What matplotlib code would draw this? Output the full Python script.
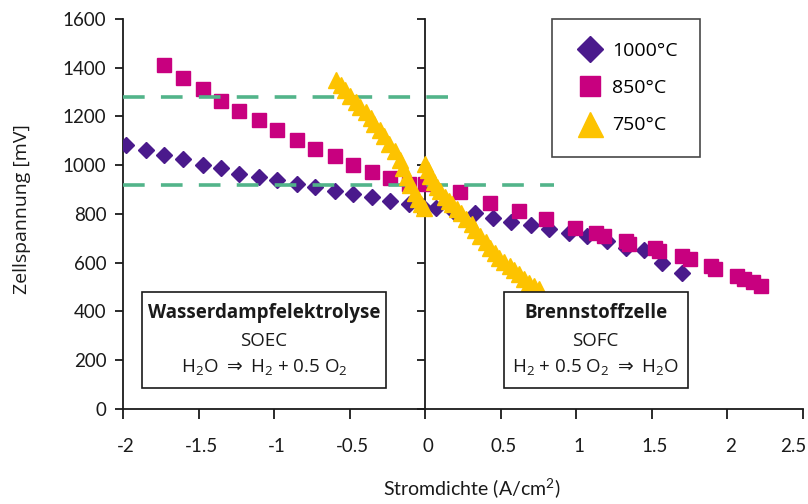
import matplotlib
matplotlib.use("Agg")
import matplotlib.pyplot as plt
import matplotlib.transforms as mtransforms
from matplotlib.patches import Rectangle
from matplotlib.lines import TICKLEFT

# ---- data ----
x_1000_left = [-1.98, -1.85, -1.73, -1.60, -1.47, -1.35, -1.23, -1.10, -0.98, -0.85, -0.73, -0.60, -0.48, -0.35, -0.23, -0.11, -0.02]
y_1000_left = [1084, 1064, 1040, 1026, 1003, 988, 966, 952, 939, 925, 910, 894, 880, 869, 853, 840, 832]
x_1000_right = [0.07, 0.19, 0.33, 0.45, 0.57, 0.70, 0.82, 0.95, 1.07, 1.20, 1.33, 1.45, 1.57, 1.70]
y_1000_right = [826, 809, 805, 782, 767, 755, 737, 721, 710, 690, 662, 652, 601, 556]

x_850_left = [-1.73, -1.60, -1.47, -1.35, -1.23, -1.10, -0.98, -0.85, -0.73, -0.60, -0.48, -0.35, -0.23, -0.11, 0.00]
y_850_left = [1411, 1360, 1313, 1264, 1223, 1184, 1143, 1105, 1068, 1037, 1003, 973, 948, 924, 925]
x_850_right = [0.23, 0.43, 0.62, 0.80, 0.99, 1.13, 1.18, 1.33, 1.35, 1.52, 1.55, 1.70, 1.75, 1.89, 1.92, 2.06, 2.11, 2.17, 2.22]
y_850_right = [890, 846, 814, 778, 744, 724, 710, 690, 676, 660, 649, 629, 615, 588, 574, 547, 533, 520, 506]

x_750_left = [-0.59, -0.56, -0.53, -0.50, -0.46, -0.43, -0.39, -0.36, -0.34, -0.30, -0.27, -0.24, -0.20, -0.17, -0.15, -0.12, -0.10, -0.07, -0.05, -0.03, -0.01]
y_750_left = [1351, 1330, 1310, 1285, 1261, 1240, 1220, 1195, 1171, 1145, 1118, 1088, 1057, 1022, 988, 950, 918, 886, 860, 840, 826]
x_750_right = [0.00, 0.02, 0.035, 0.06, 0.08, 0.10, 0.13, 0.155, 0.18, 0.21, 0.24, 0.27, 0.31, 0.33, 0.36, 0.40, 0.43, 0.46, 0.49, 0.52, 0.56, 0.59, 0.62, 0.655, 0.69, 0.72, 0.75]
y_750_right = [1004, 980, 955, 930, 910, 894, 868, 855, 841, 822, 804, 780, 759, 735, 710, 685, 661, 640, 620, 604, 588, 572, 555, 535, 518, 505, 494]

ref_levels = [1280, 920]
ref_ends = [0.18, 0.85]

series_labels = ["1000\u00b0C", "850\u00b0C", "750\u00b0C"]
x_ticks = [-2, -1.5, -1, -0.5, 0, 0.5, 1, 1.5, 2, 2.5]
x_ticklabels = ["-2", "-1.5", "-1", "-0.5", "0", "0.5", "1", "1.5", "2", "2.5"]
y_ticks = [0, 200, 400, 600, 800, 1000, 1200, 1400, 1600]

# ---- style ----
purple = "#4a1a8c"
pink = "#c8007f"
yellow = "#fdc300"
green = "#52b48a"
ink = "#1a1a1a"

narrow = ["Lato", "DejaVu Sans"]
textfam = ["Open Sans", "DejaVu Sans"]
plt.rcParams["font.family"] = textfam
plt.rcParams["mathtext.fontset"] = "dejavusans"

fig = plt.figure(figsize=(8.08, 5.04), dpi=100)
ax = fig.add_axes([0.1522, 0.1885, 0.9938 - 0.1522, 0.9623 - 0.1885])

ax.plot(x_1000_left + x_1000_right, y_1000_left + y_1000_right, ls="none", marker="D",
        ms=8.5, color=purple, mec=purple, zorder=3, label=series_labels[0])
ax.plot(x_850_left + x_850_right, y_850_left + y_850_right, ls="none", marker="s",
        ms=10, color=pink, mec=pink, zorder=3.5, label=series_labels[1])
for lvl, xe in zip(ref_levels, ref_ends):
    ax.plot([-2, xe], [lvl, lvl], color=green, lw=2.6, ls=(0, (6, 4.5)), zorder=4)
ax.plot(x_750_left + x_750_right, y_750_left + y_750_right, ls="none", marker="^",
        ms=12, color=yellow, mec=yellow, zorder=5, label=series_labels[2])

ax.set_xlim(-2, 2.5)
ax.set_ylim(0, 1600)
ax.spines["top"].set_visible(False)
ax.spines["right"].set_position(("data", 0))
for s in ["left", "bottom", "right"]:
    ax.spines[s].set_linewidth(1.3)
    ax.spines[s].set_color(ink)
ax.set_xticks(x_ticks)
ax.set_xticklabels(x_ticklabels)
ax.set_yticks(y_ticks)
ax.tick_params(axis="x", direction="out", length=7, width=1.3, pad=14, labelsize=13.5, colors=ink)
ax.tick_params(axis="y", which="both", left=True, right=True, labelright=False,
               length=6, width=1.3, pad=6, labelsize=13.5, colors=ink)
for t in ax.yaxis.get_major_ticks():
    t.tick2line.set_marker(TICKLEFT)
shift = mtransforms.ScaledTranslation(3 / 100, 0, fig.dpi_scale_trans)
xlabs = ax.get_xticklabels()
for lab in xlabs:
    lab.set_family(narrow)
    lab.set_transform(lab.get_transform() + shift)
xlabs[-1].set_horizontalalignment("right")
for lab in ax.get_yticklabels():
    lab.set_family(narrow)

fig.text(0.027, 0.585, "Zellspannung [mV]", rotation=90, ha="center", va="center",
         fontsize=14, family=textfam, color=ink)
fig.text(0.584, 0.03, "Stromdichte (A/cm$^\\mathregular{2}$)", ha="center", va="center",
         fontsize=14, family=narrow, color=ink)

# info boxes
boxes = [
    (-1.875, 86, 1.618, 392, -1.066, "Wasserdampfelektrolyse", "SOEC",
     "H$_\\mathregular{2}$O $\\Rightarrow$ H$_\\mathregular{2}$ + 0.5 O$_\\mathregular{2}$"),
    (0.52, 86, 1.217, 392, 1.128, "Brennstoffzelle", "SOFC",
     "H$_\\mathregular{2}$ + 0.5 O$_\\mathregular{2}$ $\\Rightarrow$ H$_\\mathregular{2}$O"),
]
for x0, y0, w, h, xc, title, abbr, eq in boxes:
    ax.add_patch(Rectangle((x0, y0), w, h, fill=True, facecolor="white", edgecolor=ink,
                           lw=1.2, zorder=6))
    ax.text(xc, 392, title, ha="center", va="center", fontsize=13.5, fontweight="bold",
            color=ink, zorder=7)
    ax.text(xc, 278, abbr, ha="center", va="center", fontsize=13.5, color=ink, zorder=7)
    ax.text(xc, 168, eq, ha="center", va="center", fontsize=13.5, color=ink, zorder=7)

leg = ax.legend(loc="upper left", bbox_to_anchor=(0.683, 0.962), bbox_transform=fig.transFigure,
                frameon=True, fancybox=False, edgecolor=ink, fontsize=14,
                markerscale=1.5, handletextpad=0.35, labelspacing=1.0, borderpad=1.15,
                handlelength=1.6, borderaxespad=0)
leg.get_frame().set_linewidth(1.2)
leg.set_zorder(8)

fig.savefig("out.png", dpi=100)
